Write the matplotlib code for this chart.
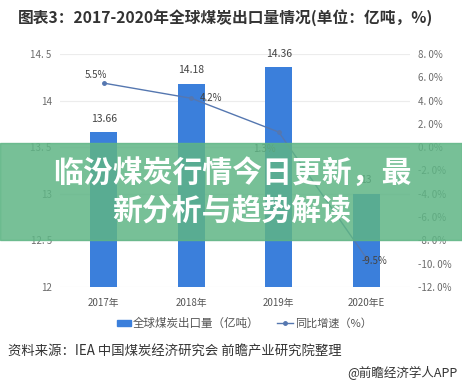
import matplotlib.pyplot as plt
from matplotlib.patches import Rectangle
from matplotlib.lines import Line2D

plt.rcParams['font.family'] = ['Noto Sans CJK SC', 'DejaVu Sans']

years = ['2017年', '2018年', '2019年', '2020年E']
exports = [13.66, 14.18, 14.36, 13.0]
export_labels = ['13.66', '14.18', '14.36', '13']
growth = [5.5, 4.2, 1.3, -9.5]
growth_labels = ['5.5%', '4.2%', '1.3%', '-9.5%']
left_ticks = [12, 12.5, 13, 13.5, 14, 14.5]
right_ticks = [-12, -10, -8, -6, -4, -2, 0, 2, 4, 6, 8]

W, H = 462, 385
f = plt.figure(figsize=(W / 100, H / 100), dpi=100)
f.patch.set_facecolor('white')

ax = f.add_axes([60 / W, 1 - 287 / H, 350 / W, 233 / H])
ax2 = ax.twinx()

x = list(range(len(years)))
bar_color = '#3b7fdb'
line_color = '#5577b0'
tick_color = '#6b6b6b'

ax.bar(x, exports, width=0.31, color=bar_color, zorder=2)
ax.set_ylim(12, 14.5)
ax.set_xlim(-0.5, 3.5)
ax.set_yticks(left_ticks)
ax.set_yticklabels([('%g' % t).replace('.', '. ') for t in left_ticks])
ax.set_xticks(x)
ax.set_xticklabels(years)
ax.grid(axis='y', color='#ececec', linewidth=0.8, zorder=0)
ax.set_axisbelow(True)
for s in ax.spines.values():
    s.set_visible(False)
for s in ax2.spines.values():
    s.set_visible(False)
ax.tick_params(axis='y', length=0, labelsize=7, labelcolor=tick_color, pad=6)
ax.tick_params(axis='x', length=0, labelsize=7, labelcolor='#555555', pad=8)

for xi, v, t in zip(x, exports, export_labels):
    ax.annotate(t, (xi, v), xytext=(0, 6), textcoords='offset points',
                ha='center', va='bottom', fontsize=7.5, color='#444444')

ax2.plot(x, growth, color=line_color, linewidth=1, marker='o', markersize=2.5, zorder=3)
ax2.set_ylim(-12, 8)
ax2.set_yticks(right_ticks)
ax2.set_yticklabels([('%.1f%%' % t).replace('.', '. ') for t in right_ticks])
ax2.tick_params(axis='y', length=0, labelsize=7, labelcolor=tick_color, pad=6)

growth_offsets = [(-6, 6), (14, 0), (-10, -12), (6, -2)]
for xi, v, t, off in zip(x, growth, growth_labels, growth_offsets):
    ax2.annotate(t, (xi, v), xytext=off, textcoords='offset points',
                 ha='center', va='center', fontsize=7, color='#444444')

# title
f.text(18 / W, 1 - 18 / H, '图表3：2017-2020年全球煤炭出口量情况(单位：亿吨，%)',
       fontsize=11.3, fontweight='bold', color='#333333', va='center', ha='left')

# legend
f.patches.append(Rectangle((117 / W, 1 - 326 / H), 14 / W, 6 / H,
                           transform=f.transFigure, color=bar_color))
f.text(133 / W, 1 - 323 / H, '全球煤炭出口量（亿吨）', fontsize=8.3, color='#555555',
       va='center', ha='left')
f.lines.append(Line2D([277 / W, 293 / W], [1 - 323 / H, 1 - 323 / H], transform=f.transFigure,
                      color=line_color, linewidth=1))
f.lines.append(Line2D([285 / W], [1 - 323 / H], transform=f.transFigure,
                      color=line_color, marker='o', markersize=2.5))
f.text(295 / W, 1 - 323 / H, '同比增速（%）', fontsize=8, color='#555555',
       va='center', ha='left')

# source
f.text(8 / W, 1 - 352 / H, '资料来源：IEA 中国煤炭经济研究会 前瞻产业研究院整理',
       fontsize=9.6, color='#333333', va='center', ha='left')
f.text(458 / W, 1 - 373 / H, '@前瞻经济学人APP', fontsize=9, color='#333333',
       va='center', ha='right')

# banner overlay
f.patches.append(Rectangle((0, 1 - 240 / H), 1, 97 / H, transform=f.transFigure,
                           color='#5fb585', alpha=0.85, zorder=5))
f.text(232 / W, 1 - 173 / H, '临汾煤炭行情今日更新，最', fontsize=21.5, fontweight='bold',
       color='white', ha='center', va='center', zorder=6)
f.text(232 / W, 1 - 212 / H, '新分析与趋势解读', fontsize=21.5, fontweight='bold',
       color='white', ha='center', va='center', zorder=6)

f.savefig('out.png', dpi=100)
